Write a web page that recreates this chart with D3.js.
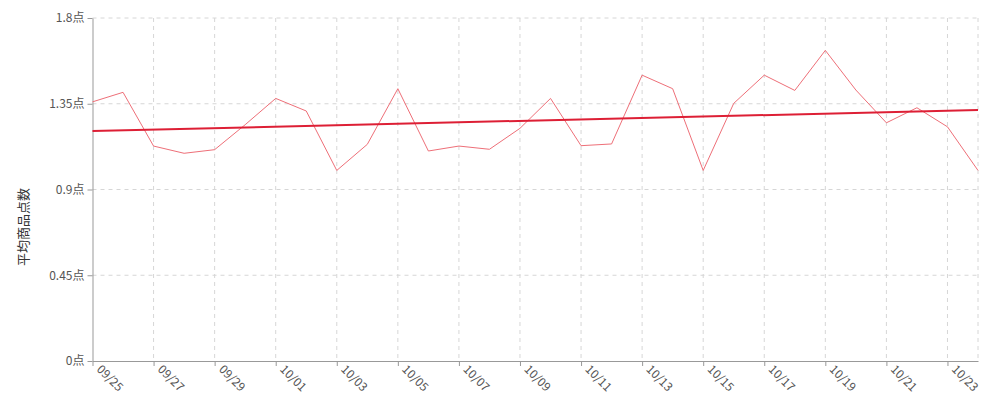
<!DOCTYPE html>
<html>
<head>
<meta charset="utf-8">
<script src="https://cdn.jsdelivr.net/npm/d3@7/dist/d3.min.js"></script>
<style>
html,body{margin:0;padding:0;background:#fff;}
svg, svg text{font-family:"Noto Sans CJK JP","Noto Sans CJK SC","Noto Sans",sans-serif;}
svg{display:block;}
</style>
</head>
<body>
<svg id="chart" width="1000" height="405"></svg>
<script>
const dates = ["09/25","09/26","09/27","09/28","09/29","09/30","10/01","10/02","10/03","10/04",
  "10/05","10/06","10/07","10/08","10/09","10/10","10/11","10/12","10/13","10/14",
  "10/15","10/16","10/17","10/18","10/19","10/20","10/21","10/22","10/23","10/24"];
const values = [1.36,1.41,1.128,1.09,1.109,1.24,1.378,1.312,1.0,1.137,
  1.429,1.102,1.128,1.111,1.221,1.378,1.13,1.139,1.5,1.429,
  1.0,1.352,1.5,1.42,1.63,1.422,1.25,1.329,1.229,1.0];
const trendValues = [1.207, 1.317];
const yTicks = [0, 0.45, 0.9, 1.35, 1.8];
const yTickLabels = ["0点","0.45点","0.9点","1.35点","1.8点"];
const xTickLabels = ["09/25","09/27","09/29","10/01","10/03","10/05","10/07","10/09","10/11","10/13","10/15","10/17","10/19","10/21","10/23"];
const yTitle = "平均商品点数";

const svg = d3.select("#chart");
const mLeft = 92.5, mRight = 978, mTop = 18, mBottom = 361;

const x = d3.scalePoint().domain(dates).range([mLeft, mRight]);
const y = d3.scaleLinear().domain([0, 1.8]).range([mBottom, mTop]);

// grid
const grid = svg.append("g");
grid.selectAll("line.h").data(yTicks.filter(d => d > 0)).join("line")
  .attr("x1", mLeft).attr("x2", mRight)
  .attr("y1", d => y(d)).attr("y2", d => y(d))
  .attr("stroke", "#d6d6d6").attr("stroke-dasharray", "4,4");
grid.selectAll("line.v").data(xTickLabels.slice(1).concat([dates[dates.length-1]])).join("line")
  .attr("x1", d => x(d)).attr("x2", d => x(d))
  .attr("y1", mTop).attr("y2", mBottom)
  .attr("stroke", "#d6d6d6").attr("stroke-dasharray", "4,4");

// axes
const yAxis = d3.axisLeft(y).tickValues(yTicks)
  .tickFormat((d, i) => yTickLabels[i]).tickSize(5).tickSizeOuter(0).tickPadding(3);
const gy = svg.append("g").attr("transform", `translate(${mLeft},0)`).call(yAxis)
  .attr("font-family", null);
gy.select(".domain").attr("stroke", "#999");
gy.selectAll(".tick line").attr("stroke", "#999");
gy.selectAll(".tick text").attr("fill", "#555").style("font-size", "12px");

const xAxis = d3.axisBottom(x).tickValues(xTickLabels).tickSize(5).tickSizeOuter(0);
const gx = svg.append("g").attr("transform", `translate(0,${mBottom})`).call(xAxis)
  .attr("font-family", null);
gx.select(".domain").attr("stroke", "#999");
gx.selectAll(".tick line").attr("stroke", "#999");
gx.selectAll(".tick text").attr("fill", "#555").style("font-size", "12px")
  .attr("text-anchor", "start").attr("dy", null).attr("y", 0)
  .attr("transform", "translate(3,9) rotate(45)");

// y title
svg.append("text")
  .attr("transform", `translate(28,227) rotate(-90)`)
  .attr("text-anchor", "middle")
  .attr("fill", "#333").style("font-size", "13px")
  .text(yTitle);

// data line
const line = d3.line().x((d, i) => x(dates[i])).y(d => y(d));
svg.append("path").datum(values)
  .attr("d", line).attr("fill", "none")
  .attr("stroke", "#ee6f78").attr("stroke-width", 1);

// trend line
const tline = d3.line().x((d, i) => i === 0 ? x(dates[0]) : x(dates[dates.length-1])).y(d => y(d));
svg.append("path").datum(trendValues)
  .attr("d", tline).attr("fill", "none")
  .attr("stroke", "#dd1f35").attr("stroke-width", 2);
</script>
</body>
</html>
